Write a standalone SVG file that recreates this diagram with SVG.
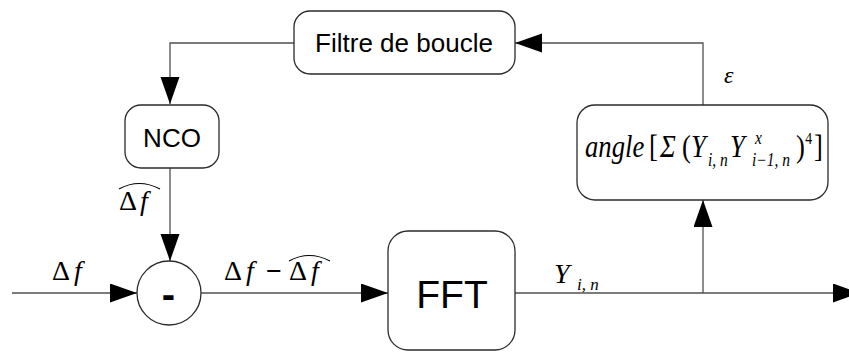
<svg xmlns="http://www.w3.org/2000/svg" width="849" height="352" viewBox="0 0 849 352">
<defs>
<style>
.box{fill:#fff;stroke:#2b2b2b;stroke-width:1.3}
.ln{fill:none;stroke:#505050;stroke-width:1.3}
.sans{font-family:"Liberation Sans",Arial,sans-serif;fill:#000}
.math{font-family:"Liberation Serif","Times New Roman",serif;fill:#000}
.it{font-style:italic}
.sub{font-size:18px}
.hat{fill:none;stroke:#000;stroke-width:1.2}
</style>
<marker id="arr" markerUnits="userSpaceOnUse" markerWidth="28" markerHeight="20" refX="27" refY="9.5" orient="auto" viewBox="0 0 28 20">
<path d="M0,0 L27,9.5 L0,19 Z" fill="#000"/>
</marker>
</defs>
<rect width="849" height="352" fill="#fff"/>
<g id="connectors">
<polyline class="ln" points="294,43 170,43 170,104" marker-end="url(#arr)"/>
<line class="ln" x1="170" y1="168" x2="170" y2="261" marker-end="url(#arr)"/>
<line class="ln" x1="12" y1="293" x2="137" y2="293" marker-end="url(#arr)"/>
<line class="ln" x1="201" y1="293" x2="388" y2="293" marker-end="url(#arr)"/>
<line class="ln" x1="515" y1="293" x2="860" y2="293" marker-end="url(#arr)"/>
<line class="ln" x1="703" y1="293" x2="703" y2="200" marker-end="url(#arr)"/>
<polyline class="ln" points="703,105 703,43 515,43" marker-end="url(#arr)"/>
</g>
<g id="filtre">
<rect class="box" x="294" y="11" width="221" height="63" rx="16"/>
<text class="sans" x="404" y="52" font-size="26" text-anchor="middle">Filtre de boucle</text>
</g>
<g id="nco">
<rect class="box" x="125" y="105" width="94" height="63" rx="16"/>
<text class="sans" x="172" y="147" font-size="26" text-anchor="middle">NCO</text>
</g>
<g id="sum">
<circle class="box" cx="169" cy="293" r="32"/>
<text class="sans" x="168.5" y="308" font-size="40" font-weight="bold" text-anchor="middle">-</text>
</g>
<g id="fft">
<rect class="box" x="388" y="231" width="127" height="119" rx="20"/>
<text class="sans" x="452" y="308" font-size="39" text-anchor="middle">FFT</text>
</g>
<g id="angle">
<rect class="box" x="577" y="105" width="251" height="95" rx="18"/>
<text class="math" font-size="31" transform="translate(585,0) scale(0.86,1)"><tspan class="it" x="0" y="157">angle</tspan><tspan x="74.4" y="157">[</tspan><tspan class="it" x="87.2" y="157">Σ</tspan><tspan x="112.8" y="157">(</tspan><tspan class="it" x="123.3" y="157">Y</tspan><tspan class="it sub" x="143" y="166">i, n</tspan><tspan class="it" x="168.6" y="157">Y</tspan><tspan class="it sub" x="197.7" y="144">x</tspan><tspan class="it sub" x="194.2" y="166">i−1, n</tspan><tspan x="245.3" y="157">)</tspan><tspan font-size="16" x="256" y="144">4</tspan><tspan x="266.3" y="157">]</tspan></text>
</g>
<g id="labels">
<text class="math" font-size="28" y="210"><tspan x="119">Δ</tspan><tspan class="it" x="140">f</tspan></text>
<path class="hat" d="M119,189 Q139,178 160,189"/>
<text class="math" font-size="28" y="280"><tspan x="52">Δ</tspan><tspan class="it" x="74">f</tspan></text>
<text class="math" font-size="28" y="280"><tspan x="224">Δ</tspan><tspan class="it" x="246">f</tspan><tspan x="266" font-weight="bold">−</tspan><tspan x="289">Δ</tspan><tspan class="it" x="311">f</tspan></text>
<path class="hat" d="M289,261 Q309,250 330,261"/>
<text class="math it" font-size="28" x="554" y="283">Y</text>
<text class="math it" font-size="17" x="577" y="290">i, n</text>
<text class="math it" font-size="24" x="724" y="83">ε</text>
</g>
</svg>
